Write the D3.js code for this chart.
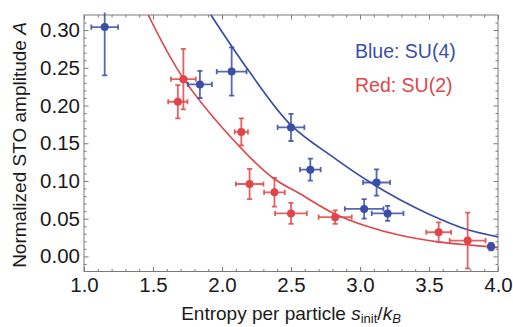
<!DOCTYPE html>
<html>
<head>
<meta charset="utf-8">
<script src="https://cdn.jsdelivr.net/npm/d3@7"></script>
<style>
  body { margin: 0; background: #fff; }
  text { font-family: "Liberation Sans", Arial, sans-serif; }
</style>
</head>
<body>
<div id="chart"></div>
<script>
// measured points: entropy s_init/k_B, amplitude A, and their error bars
const blueS    = [1.15, 1.84, 2.07, 2.50, 2.64, 3.03, 3.12, 3.20, 3.95];
const blueA    = [0.304, 0.228, 0.245, 0.171, 0.115, 0.063, 0.098, 0.057, 0.013];
const blueSErr = [0.097, 0.087, 0.108, 0.097, 0.075, 0.14, 0.098, 0.115, 0.02];
const blueAErr = [0.064, 0.018, 0.032, 0.018, 0.0145, 0.013, 0.0175, 0.010, 0.005];

const redS    = [1.68, 1.72, 2.14, 2.20, 2.38, 2.50, 2.82, 3.57, 3.78];
const redA    = [0.205, 0.235, 0.165, 0.096, 0.085, 0.057, 0.052, 0.032, 0.021];
const redSErr = [0.07, 0.09, 0.048, 0.10, 0.075, 0.115, 0.12, 0.09, 0.13];
const redAErr = [0.022, 0.04, 0.018, 0.02, 0.019, 0.014, 0.009, 0.013, 0.037];

// fit curves
const blueFitS = [1.92, 2.19, 2.50, 2.81, 3.05, 3.29, 3.50, 3.77, 4.0];
const blueFitA = [0.320, 0.247, 0.174, 0.131, 0.101, 0.075, 0.056, 0.036, 0.026];
const redFitS  = [1.466, 1.72, 2.13, 2.37, 2.565, 2.81, 3.05, 3.29, 3.58, 3.80, 4.0];
const redFitA  = [0.320, 0.236, 0.145, 0.104, 0.083, 0.057, 0.040, 0.028, 0.019, 0.015, 0.012];

// ticks
const xMajor = [1.0, 1.5, 2.0, 2.5, 3.0, 3.5, 4.0];
const yMajor = [0.00, 0.05, 0.10, 0.15, 0.20, 0.25, 0.30];
const xMinor = d3.range(11, 40).map(d => d / 10).filter(d => !xMajor.includes(d));
const yMinor = d3.range(-1, 32).map(d => d / 100).filter(d => !yMajor.some(m => Math.abs(m - d) < 1e-9));

const legendLabels = ["Blue: SU(4)", "Red: SU(2)"];

const blueColor = "#3b4ea6";
const redColor = "#e04649";

const W = 513, H = 327;
const margin = { top: 15, right: 15, bottom: 55.5, left: 84 };
const width = W - margin.left - margin.right;
const height = H - margin.top - margin.bottom;

const svg = d3.select("#chart").append("svg")
  .attr("width", W)
  .attr("height", H);

const g = svg.append("g")
  .attr("transform", `translate(${margin.left}, ${margin.top})`);

const x = d3.scaleLinear().domain([1, 4]).range([0, width]);
const y = d3.scaleLinear().domain([-0.02, 0.32]).range([height, 0]);

svg.append("defs").append("clipPath").attr("id", "clip")
  .append("rect")
  .attr("x", -3).attr("y", -2.5)
  .attr("width", width + 6).attr("height", height + 5);

// frame
g.append("rect")
  .attr("width", width).attr("height", height)
  .attr("fill", "none").attr("stroke", "#7a7a7a").attr("stroke-width", 1);

// axes: inward ticks on all four sides
function styleAxis(sel) {
  sel.select(".domain").remove();
  sel.selectAll(".tick line").attr("stroke", "#7a7a7a");
  sel.selectAll(".tick text").attr("fill", "#1a1a1a").style("font-size", "20.5px");
}

g.append("g").attr("transform", `translate(0, ${height})`)
  .call(d3.axisBottom(x).tickValues(xMajor).tickFormat(d3.format(".1f")).tickSize(-4.5).tickPadding(6))
  .call(styleAxis);
g.append("g").attr("transform", `translate(0, ${height})`)
  .call(d3.axisBottom(x).tickValues(xMinor).tickFormat("").tickSize(-2.5))
  .call(styleAxis);
g.append("g")
  .call(d3.axisTop(x).tickValues(xMajor).tickFormat("").tickSize(-4.5))
  .call(styleAxis);
g.append("g")
  .call(d3.axisTop(x).tickValues(xMinor).tickFormat("").tickSize(-2.5))
  .call(styleAxis);

g.append("g")
  .call(d3.axisLeft(y).tickValues(yMajor).tickFormat(d3.format(".2f")).tickSize(-4.5).tickPadding(4))
  .call(styleAxis);
g.append("g")
  .call(d3.axisLeft(y).tickValues(yMinor).tickFormat("").tickSize(-2.5))
  .call(styleAxis);
g.append("g").attr("transform", `translate(${width}, 0)`)
  .call(d3.axisRight(y).tickValues(yMajor).tickFormat("").tickSize(-4.5))
  .call(styleAxis);
g.append("g").attr("transform", `translate(${width}, 0)`)
  .call(d3.axisRight(y).tickValues(yMinor).tickFormat("").tickSize(-2.5))
  .call(styleAxis);

const plot = g.append("g").attr("clip-path", "url(#clip)");

// fit lines
const line = d3.line()
  .x(d => x(d[0]))
  .y(d => y(d[1]))
  .curve(d3.curveCatmullRom);

function drawFit(sArr, aArr, color) {
  plot.append("path")
    .datum(d3.zip(sArr, aArr))
    .attr("fill", "none")
    .attr("stroke", color)
    .attr("stroke-width", 1.7)
    .attr("d", line);
}
drawFit(redFitS, redFitA, redColor);
drawFit(blueFitS, blueFitA, blueColor);

// points with error bars
function drawPoints(sArr, aArr, sErr, aErr, color) {
  const data = sArr.map((s, i) => ({ s, a: aArr[i], ds: sErr[i], da: aErr[i] }));
  const cap = 2.6;
  const grp = plot.append("g")
    .attr("stroke", color)
    .attr("stroke-width", 1.8)
    .attr("stroke-opacity", 0.85);
  const pt = grp.selectAll("g").data(data).join("g");
  // horizontal bar
  pt.append("line")
    .attr("x1", d => x(d.s - d.ds)).attr("x2", d => x(d.s + d.ds))
    .attr("y1", d => y(d.a)).attr("y2", d => y(d.a));
  pt.append("line")
    .attr("x1", d => x(d.s - d.ds)).attr("x2", d => x(d.s - d.ds))
    .attr("y1", d => y(d.a) - cap).attr("y2", d => y(d.a) + cap);
  pt.append("line")
    .attr("x1", d => x(d.s + d.ds)).attr("x2", d => x(d.s + d.ds))
    .attr("y1", d => y(d.a) - cap).attr("y2", d => y(d.a) + cap);
  // vertical bar
  pt.append("line")
    .attr("x1", d => x(d.s)).attr("x2", d => x(d.s))
    .attr("y1", d => y(d.a - d.da)).attr("y2", d => y(d.a + d.da));
  pt.append("line")
    .attr("x1", d => x(d.s) - cap).attr("x2", d => x(d.s) + cap)
    .attr("y1", d => y(d.a - d.da)).attr("y2", d => y(d.a - d.da));
  pt.append("line")
    .attr("x1", d => x(d.s) - cap).attr("x2", d => x(d.s) + cap)
    .attr("y1", d => y(d.a + d.da)).attr("y2", d => y(d.a + d.da));
  plot.append("g").selectAll("circle").data(data).join("circle")
    .attr("cx", d => x(d.s))
    .attr("cy", d => y(d.a))
    .attr("r", 4)
    .attr("fill", color);
}
drawPoints(redS, redA, redSErr, redAErr, redColor);
drawPoints(blueS, blueA, blueSErr, blueAErr, blueColor);

// legend
svg.append("text")
  .attr("x", 355).attr("y", 57.5)
  .attr("fill", blueColor).style("font-size", "19.5px")
  .text(legendLabels[0]);
svg.append("text")
  .attr("x", 355).attr("y", 92)
  .attr("fill", redColor).style("font-size", "19.5px")
  .text(legendLabels[1]);

// axis titles
const yTitle = svg.append("text")
  .attr("transform", "translate(26, 145) rotate(-90)")
  .attr("text-anchor", "middle")
  .attr("fill", "#1a1a1a")
  .style("font-size", "19px");
yTitle.append("tspan").text("Normalized STO amplitude ");
yTitle.append("tspan").style("font-style", "italic").text("A");

const xTitle = svg.append("text")
  .attr("x", margin.left + width / 2).attr("y", 320)
  .attr("text-anchor", "middle")
  .attr("fill", "#1a1a1a")
  .style("font-size", "19px");
xTitle.append("tspan").text("Entropy per particle ");
xTitle.append("tspan").style("font-style", "italic").text("s");
xTitle.append("tspan").attr("dy", 3).style("font-size", "13px").text("init");
xTitle.append("tspan").attr("dy", -3).text("/");
xTitle.append("tspan").style("font-style", "italic").text("k");
xTitle.append("tspan").attr("dy", 3).style("font-size", "13px").style("font-style", "italic").text("B");
</script>
</body>
</html>
